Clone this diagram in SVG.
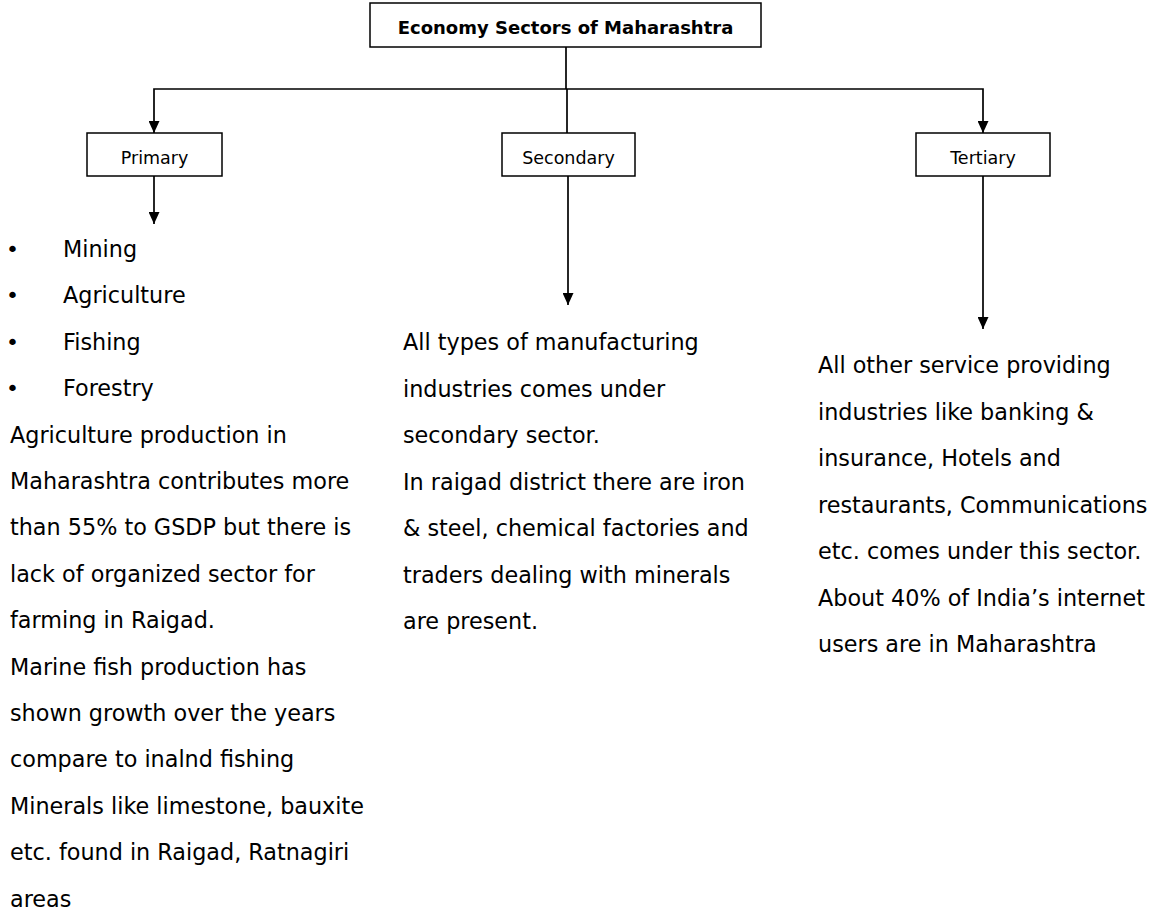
<svg xmlns="http://www.w3.org/2000/svg" width="1167" height="913" viewBox="0 0 1167 913">
<style>
  .box { fill: #fff; stroke: #000; stroke-width: 1.5; }
  .title { font-family: "DejaVu Sans", Verdana, sans-serif; font-weight: bold; font-size: 18px; fill: #000; text-anchor: middle; }
  .label { font-family: "DejaVu Sans", Verdana, sans-serif; font-size: 17.5px; fill: #000; text-anchor: middle; }
  .body { font-family: "DejaVu Sans", Verdana, sans-serif; font-size: 22.3px; fill: #000; }
  .bullet { font-size: 22px; }
  .conn { fill: none; stroke: #000; stroke-width: 1.7; }
</style>
<defs>
  <marker id="arrow" markerUnits="userSpaceOnUse" markerWidth="13" markerHeight="11" refX="12" refY="5.5" orient="auto">
    <path d="M0,0 L12,5.5 L0,11 z" fill="#000"/>
  </marker>
</defs>
<rect width="1167" height="913" fill="#fff"/>
<g id="connectors">
  <path class="conn" d="M566,47 V89"/>
  <path class="conn" d="M566,89 H154 V133" marker-end="url(#arrow)"/>
  <path class="conn" d="M566,89 H983 V133" marker-end="url(#arrow)"/>
  <path class="conn" d="M567,89 V133"/>
  <path class="conn" d="M154,176 V224" marker-end="url(#arrow)"/>
  <path class="conn" d="M568,176 V305" marker-end="url(#arrow)"/>
  <path class="conn" d="M983,176 V329" marker-end="url(#arrow)"/>
</g>
<g id="title">
  <rect class="box" x="370" y="3" width="391" height="44"/>
  <text class="title" x="565.5" y="34">Economy Sectors of Maharashtra</text>
</g>
<g id="primary">
  <rect class="box" x="87" y="133" width="135" height="43"/>
  <text class="label" x="154.5" y="164">Primary</text>
</g>
<g id="secondary">
  <rect class="box" x="502" y="133" width="133" height="43"/>
  <text class="label" x="568.5" y="164">Secondary</text>
</g>
<g id="tertiary">
  <rect class="box" x="916" y="133" width="134" height="43"/>
  <text class="label" x="983" y="164">Tertiary</text>
</g>
<g id="primary-text" class="body">
  <text class="bullet" x="6" y="257">•</text><text x="63" y="257">Mining</text>
  <text class="bullet" x="6" y="303.4">•</text><text x="63" y="303.4">Agriculture</text>
  <text class="bullet" x="6" y="349.8">•</text><text x="63" y="349.8">Fishing</text>
  <text class="bullet" x="6" y="396.2">•</text><text x="63" y="396.2">Forestry</text>
  <text x="10" y="442.6">Agriculture production in</text>
  <text x="10" y="489">Maharashtra contributes more</text>
  <text x="10" y="535.4">than 55% to GSDP but there is</text>
  <text x="10" y="581.8">lack of organized sector for</text>
  <text x="10" y="628.2">farming in Raigad.</text>
  <text x="10" y="674.6">Marine fish production has</text>
  <text x="10" y="721">shown growth over the years</text>
  <text x="10" y="767.4">compare to inalnd fishing</text>
  <text x="10" y="813.8">Minerals like limestone, bauxite</text>
  <text x="10" y="860.2">etc. found in Raigad, Ratnagiri</text>
  <text x="10" y="906.6">areas</text>
</g>
<g id="secondary-text" class="body">
  <text x="403" y="350">All types of manufacturing</text>
  <text x="403" y="396.5">industries comes under</text>
  <text x="403" y="443">secondary sector.</text>
  <text x="403" y="489.5">In raigad district there are iron</text>
  <text x="403" y="536">&amp; steel, chemical factories and</text>
  <text x="403" y="582.5">traders dealing with minerals</text>
  <text x="403" y="629">are present.</text>
</g>
<g id="tertiary-text" class="body">
  <text x="818" y="373">All other service providing</text>
  <text x="818" y="419.5">industries like banking &amp;</text>
  <text x="818" y="466">insurance, Hotels and</text>
  <text x="818" y="512.5">restaurants, Communications</text>
  <text x="818" y="559">etc. comes under this sector.</text>
  <text x="818" y="605.5">About 40% of India’s internet</text>
  <text x="818" y="652">users are in Maharashtra</text>
</g>
</svg>
